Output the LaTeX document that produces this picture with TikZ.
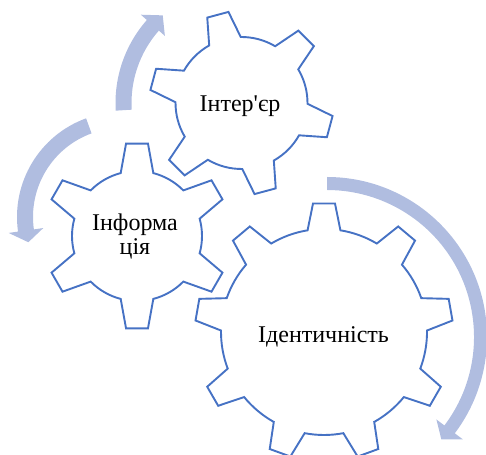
\documentclass[tikz,border=0pt]{standalone}
\usepackage{fontspec}
\newfontfamily\gearfont[Ligatures=TeXOff]{LiberationSerif-Regular.ttf}
\definecolor{gearblue}{RGB}{70,114,196}
\definecolor{arrowgrey}{RGB}{176,189,224}

% gear: centre x, centre y, teeth, phase, tip radius, root radius
\newcommand{\drawgear}[6]{%
  \pgfmathsetmacro\gstep{360/#3}%
  \pgfmathsetmacro\gtip{deg(11/#5)}%
  \pgfmathsetmacro\groot{deg(16.5/#6)}%
  \pgfmathtruncatemacro\glast{#3-1}%
  \draw[gearline,shift={(#1,#2)}] ({#4-\groot}:#6)
    \foreach \k [evaluate=\k as \ga using #4+\gstep*\k] in {0,...,\glast} {
      -- ({\ga-\gtip}:#5) -- ({\ga+\gtip}:#5) -- ({\ga+\groot}:#6)
      arc[start angle=\ga+\groot, end angle=\ga+\gstep-\groot, radius=#6]
    } -- cycle;%
}
% bent arrow: centre x, centre y, radius, from, to, half width, head half width, head length
\newcommand{\bentarrow}[8]{%
  \pgfmathsetmacro\hsgn{sign(#5-#4)}%
  \pgfmathsetmacro\htip{#5+\hsgn*deg(#8/#3)}%
  \pgfmathsetmacro\rout{#3+#6}\pgfmathsetmacro\rin{#3-#6}%
  \pgfmathsetmacro\hout{#3+#7}\pgfmathsetmacro\hin{#3-#7}%
  \fill[arrowband,shift={(#1,#2)}] (#4:\rout)
    arc[start angle=#4, end angle=#5, radius=\rout]
    -- (#5:\hout) -- (\htip:#3) -- (#5:\hin) -- (#5:\rin)
    arc[start angle=#5, end angle=#4, radius=\rin] -- cycle;%
}

\begin{document}
\begin{tikzpicture}[x=1pt,y=1pt,
    gearline/.style={draw=gearblue,line width=1.9pt},
    arrowband/.style={fill=arrowgrey},
    geartext/.style={font=\gearfont\fontsize{24}{24.5}\selectfont,inner sep=0pt}]
  \clip (0,0) rectangle (486,454);
  \useasboundingbox (0,0) rectangle (486,454);

  % arrows round the gears
  \bentarrow{241}{351}{117.5}{183.5}{138.6}{8}{16}{14}
  \bentarrow{122}{237}{97}{110}{188}{8}{17.5}{12}
  \bentarrow{327}{117}{153.5}{90}{-37}{6.5}{16.5}{13}

  % gears
  \drawgear{241.5}{351}{6}{105}{92}{66}
  \drawgear{137}{218}{6}{90}{93}{65}
  \drawgear{324}{122}{9}{90}{129}{103}

  \node[geartext,anchor=base] (interier) at (240,342.3) {Інтер'єр};
  \node[geartext,align=center] (info) at (135,217.6) {Інформа\\ція};
  \node[geartext,anchor=base] (ident) at (323.5,111.7) {Ідентичність};
\end{tikzpicture}
\end{document}
